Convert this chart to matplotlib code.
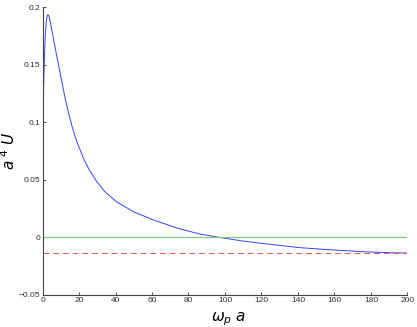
import numpy as np
from matplotlib import pyplot as plt

wa = [0, 0.3, 0.6, 1, 1.5, 2, 2.5, 3, 3.5, 4, 5, 6, 7.5, 9, 11, 12.5, 14.5,
      16.2, 18, 19.8, 22.5, 25.3, 29.5, 34, 40.5, 50, 61, 74, 86, 97, 110, 123,
      141, 159, 178, 192, 200]
a4U = [0, 0.09, 0.13, 0.155, 0.175, 0.187, 0.192, 0.1935, 0.1925, 0.189, 0.181,
       0.1725, 0.160, 0.148, 0.132, 0.120, 0.1065, 0.0963, 0.087, 0.079, 0.0685,
       0.0595, 0.049, 0.040, 0.031, 0.0222, 0.015, 0.008, 0.003, 0.0, -0.0032,
       -0.0057, -0.0089, -0.0109, -0.0126, -0.0134, -0.0136]
asymptote = -0.0136

x_ticks = [0, 20, 40, 60, 80, 100, 120, 140, 160, 180, 200]
y_ticks = [-0.05, 0, 0.05, 0.1, 0.15, 0.2]
y_tick_labels = ["\u22120.05", "0", "0.05", "0.1", "0.15", "0.2"]

plt.rcParams['font.family'] = ['Liberation Sans', 'DejaVu Sans']

fig = plt.figure(figsize=(4.17, 3.27), dpi=100)
ax = fig.add_axes([0.102, 0.098, 0.875, 0.88])

ax.plot(wa, a4U, color='#3344ff', lw=0.7)
ax.axhline(0, color='#7fcc7f', lw=0.9)
ax.axhline(asymptote, color='#ee5555', lw=0.7, ls=(0, (6, 4)))

ax.set_xlim(0, 200)
ax.set_ylim(-0.05, 0.2)
ax.set_xticks(x_ticks)
ax.set_xticklabels([str(t) for t in x_ticks])
ax.set_yticks(y_ticks)
ax.set_yticklabels(y_tick_labels)
ax.tick_params(direction='in', length=2.5, width=0.6, labelsize=6,
               colors='#333333', pad=1.5)

for s in ['top', 'right']:
    ax.spines[s].set_visible(False)
for s in ['left', 'bottom']:
    ax.spines[s].set_color('#444444')
    ax.spines[s].set_linewidth(0.8)

ax.set_xlabel(r'$\omega_p\ a$', fontsize=11)
ax.xaxis.set_label_coords(0.51, -0.055)
ax.set_ylabel(r'$a^{\ 4}\ U$', fontsize=11)
ax.yaxis.set_label_coords(-0.066, 0.5)

fig.savefig('out.png', dpi=100)
